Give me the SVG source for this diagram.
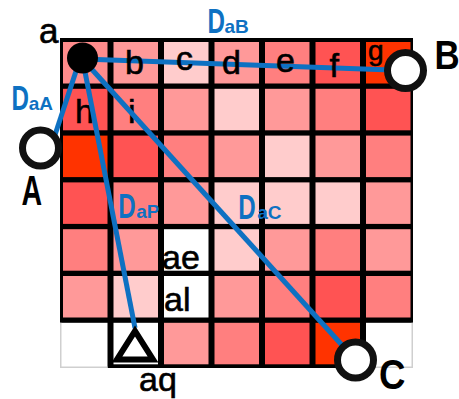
<svg xmlns="http://www.w3.org/2000/svg" width="459" height="399" viewBox="0 0 459 399">
  <style>
    .l1 { fill: #FFCCCC; }
    .l2 { fill: #FF9999; }
    .l3 { fill: #FF7F7F; }
    .l4 { fill: #FF5353; }
    .l5 { fill: #FF3300; }
    .wh { fill: #FFFFFF; }
    .edge { stroke: #0E71C2; stroke-width: 5; fill: none; }
    .ring { fill: #FFFFFF; stroke: #111111; stroke-width: 7; }
    .cell-label { font-family: "Liberation Sans", Arial, sans-serif; font-size: 34px; fill: #000000; stroke: #000000; stroke-width: 0.6; }
    .cap { font-family: "Liberation Sans", Arial, sans-serif; font-weight: bold; fill: #000000; }
    .dist { font-family: "Liberation Sans", Arial, sans-serif; font-weight: bold; fill: #0E71C2; }
    .dist-big { font-size: 35px; }
    .dist-sub { font-size: 19px; }
    .gray { stroke: #CFCFCF; stroke-width: 1.5; fill: none; }
  </style>

  <!-- 7x7 grid: black lines come from the backing rect showing between cells -->
  <g id="grid">
    <rect x="60" y="38" width="353" height="330" fill="#000000"/>
    <!-- row 0 -->
    <rect x="63" y="42" width="44.5" height="41.5" fill="#FF8C8C"/>
    <rect x="113.5" y="42" width="44.5" height="41.5" class="l2"/>
    <rect x="164" y="42" width="44.5" height="41.5" class="l1"/>
    <rect x="214.5" y="42" width="44.5" height="41.5" class="l2"/>
    <rect x="265" y="42" width="44.5" height="41.5" class="l3"/>
    <rect x="315.5" y="42" width="44.5" height="41.5" class="l4"/>
    <rect x="366" y="42" width="44.5" height="41.5" class="l5"/>
    <!-- row 1 -->
    <rect x="63" y="88.8" width="44.5" height="41.5" class="l4"/>
    <rect x="113.5" y="88.8" width="44.5" height="41.5" class="l3"/>
    <rect x="164" y="88.8" width="44.5" height="41.5" class="l2"/>
    <rect x="214.5" y="88.8" width="44.5" height="41.5" class="l1"/>
    <rect x="265" y="88.8" width="44.5" height="41.5" class="l2"/>
    <rect x="315.5" y="88.8" width="44.5" height="41.5" class="l3"/>
    <rect x="366" y="88.8" width="44.5" height="41.5" class="l4"/>
    <!-- row 2 -->
    <rect x="63" y="135.6" width="44.5" height="41.5" class="l5"/>
    <rect x="113.5" y="135.6" width="44.5" height="41.5" class="l4"/>
    <rect x="164" y="135.6" width="44.5" height="41.5" class="l3"/>
    <rect x="214.5" y="135.6" width="44.5" height="41.5" class="l2"/>
    <rect x="265" y="135.6" width="44.5" height="41.5" class="l1"/>
    <rect x="315.5" y="135.6" width="44.5" height="41.5" class="l2"/>
    <rect x="366" y="135.6" width="44.5" height="41.5" class="l3"/>
    <!-- row 3 -->
    <rect x="63" y="182.4" width="44.5" height="41.5" class="l4"/>
    <rect x="113.5" y="182.4" width="44.5" height="41.5" class="l3"/>
    <rect x="164" y="182.4" width="44.5" height="41.5" class="l2"/>
    <rect x="214.5" y="182.4" width="44.5" height="41.5" class="l1"/>
    <rect x="265" y="182.4" width="44.5" height="41.5" class="l1"/>
    <rect x="315.5" y="182.4" width="44.5" height="41.5" class="l1"/>
    <rect x="366" y="182.4" width="44.5" height="41.5" class="l2"/>
    <!-- row 4 -->
    <rect x="63" y="229.2" width="44.5" height="41.5" class="l3"/>
    <rect x="113.5" y="229.2" width="44.5" height="41.5" class="l2"/>
    <rect x="164" y="229.2" width="44.5" height="41.5" class="wh"/>
    <rect x="214.5" y="229.2" width="44.5" height="41.5" class="l1"/>
    <rect x="265" y="229.2" width="44.5" height="41.5" class="l2"/>
    <rect x="315.5" y="229.2" width="44.5" height="41.5" class="l3"/>
    <rect x="366" y="229.2" width="44.5" height="41.5" class="l2"/>
    <!-- row 5 -->
    <rect x="63" y="276" width="44.5" height="41.5" class="l2"/>
    <rect x="113.5" y="276" width="44.5" height="41.5" class="l1"/>
    <rect x="164" y="276" width="44.5" height="41.5" class="wh"/>
    <rect x="214.5" y="276" width="44.5" height="41.5" class="l2"/>
    <rect x="265" y="276" width="44.5" height="41.5" class="l3"/>
    <rect x="315.5" y="276" width="44.5" height="41.5" class="l4"/>
    <rect x="366" y="276" width="44.5" height="41.5" class="l3"/>
    <!-- row 6 -->
    <rect x="60" y="322.8" width="47.5" height="45.2" class="wh"/>
    <path d="M60.75 322.8 V367.25 H107.5" class="gray"/>
    <rect x="113.5" y="322.8" width="44.5" height="41.5" class="wh"/>
    <rect x="164" y="322.8" width="44.5" height="41.5" class="l2"/>
    <rect x="214.5" y="322.8" width="44.5" height="41.5" class="l3"/>
    <rect x="265" y="322.8" width="44.5" height="41.5" class="l4"/>
    <rect x="315.5" y="322.8" width="44.5" height="41.5" class="l5"/>
    <rect x="366" y="322.8" width="47" height="45.2" class="wh"/>
    <path d="M366 367.25 H412.25 V322.8" class="gray"/>
  </g>

  <!-- grid cell letters not crossed by a connector -->
  <g id="cell-letters">
    <text class="cell-label" x="368" y="60" style="font-size:28px">g</text>
    <text class="cell-label" x="75" y="123">h</text>
    <text class="cell-label" x="128" y="123">i</text>
    <text class="cell-label" x="162" y="269">ae</text>
    <text class="cell-label" x="164" y="311">al</text>
  </g>

  <!-- distance connectors from a -->
  <g id="connectors">
    <line class="edge" x1="82.5" y1="59" x2="405.5" y2="70.5"/>
    <line class="edge" x1="80" y1="59" x2="53" y2="141"/>
    <line class="edge" x1="82.5" y1="59" x2="135" y2="328"/>
    <line class="edge" x1="82.5" y1="59" x2="355.5" y2="360"/>
  </g>

  <!-- top-row letters sit above the a–B line -->
  <g id="cell-letters-top">
    <text class="cell-label" x="125" y="74">b</text>
    <text class="cell-label" x="176" y="70">c</text>
    <text class="cell-label" x="222" y="74">d</text>
    <text class="cell-label" x="276" y="72">e</text>
    <text class="cell-label" x="329.5" y="77">f</text>
  </g>

  <g id="node-a">
    <circle cx="82.5" cy="58" r="15.5" fill="#000000"/>
    <text class="cell-label" x="39" y="43" style="font-size:35px">a</text>
  </g>

  <g id="node-A">
    <circle class="ring" cx="40.5" cy="148" r="18"/>
    <text class="cap" transform="translate(21.5,205) scale(0.68,1)" font-size="42">A</text>
  </g>

  <g id="node-B">
    <circle class="ring" cx="405.5" cy="70.5" r="18"/>
    <text class="cap" transform="translate(434.5,68.5) scale(0.85,1)" font-size="41">B</text>
  </g>

  <g id="node-C">
    <circle class="ring" cx="355.5" cy="360" r="18"/>
    <text class="cap" transform="translate(379,389) scale(0.85,1)" font-size="43">C</text>
  </g>

  <g id="node-aq">
    <polygon points="135,331 117,359.5 153,359.5" fill="#FFFFFF" stroke="#000000" stroke-width="6" stroke-linejoin="miter"/>
    <text class="cell-label" x="139" y="391">aq</text>
  </g>

  <!-- distance labels -->
  <g id="distance-labels">
    <text class="dist dist-big" transform="translate(207.5,33.3) scale(0.69,1)">D</text>
    <text class="dist dist-sub" x="224.5" y="33.3">aB</text>
    <text class="dist dist-big" transform="translate(11.5,110) scale(0.69,1)">D</text>
    <text class="dist dist-sub" x="28.8" y="110">aA</text>
    <text class="dist dist-big" transform="translate(118.2,218) scale(0.69,1)">D</text>
    <text class="dist dist-sub" x="136.2" y="218">aP</text>
    <text class="dist dist-big" transform="translate(238.2,218.7) scale(0.69,1)">D</text>
    <text class="dist dist-sub" x="257.2" y="218.7">aC</text>
  </g>
</svg>
